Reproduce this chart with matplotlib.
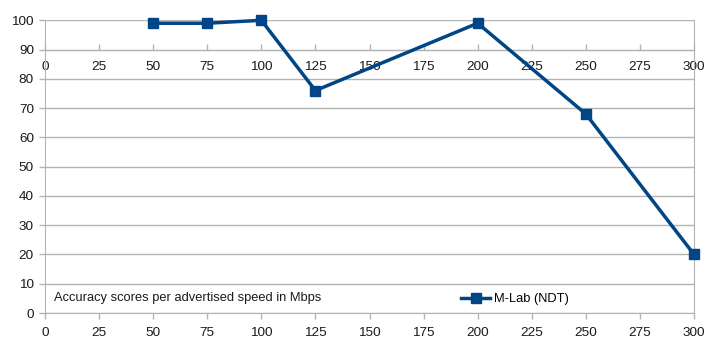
import matplotlib
matplotlib.use("Agg")
import matplotlib.pyplot as plt

# data
speeds = [50, 75, 100, 125, 200, 250, 300]
accuracy = [99, 99, 100, 76, 99, 68, 20]
x_ticks = list(range(0, 301, 25))
y_ticks = list(range(0, 101, 10))

LINE = "#004586"
GRID = "#b3b3b3"
TXT = "#1a1a1a"
FS = 9.3

plt.rcParams["font.family"] = ["Liberation Sans", "DejaVu Sans"]
plt.rcParams["font.size"] = FS

fig = plt.figure(figsize=(7.2, 3.45), dpi=100)
ax = fig.add_axes([45 / 720, 1 - 313 / 345, (694 - 45) / 720, (313 - 20.3) / 345])

ax.plot(speeds, accuracy, color=LINE, lw=2.5, marker="s", ms=7.5,
        mfc=LINE, mec=LINE, label="M-Lab (NDT)", zorder=3, clip_on=False)

ax.set_xlim(0, 300)
ax.set_ylim(0, 100)
ax.set_xticks(x_ticks)
ax.set_yticks(y_ticks)
ax.yaxis.grid(True, color=GRID, lw=1)
ax.set_axisbelow(True)

for side in ["left", "right", "bottom"]:
    ax.spines[side].set_color(GRID)
ax.spines["top"].set_visible(False)
ax.tick_params(axis="both", color=GRID, length=4, width=1, labelcolor=TXT, labelsize=FS + 0.4)
ax.tick_params(axis="x", pad=6)
ax.tick_params(axis="y", pad=4)

# second x axis crossing at y = 90, labels below it, ticks pointing up
sec = ax.secondary_xaxis(0.9)
sec.set_xticks(x_ticks)
sec.xaxis.set_ticks_position("bottom")
sec.xaxis.set_label_position("bottom")
for s in sec.spines.values():
    s.set_color(GRID)
sec.tick_params(axis="x", direction="in", color=GRID, length=4, width=1,
                labelcolor=TXT, labelsize=FS + 0.4, pad=8)

ax.text(0.0139, 0.05, "Accuracy scores per advertised speed in Mbps",
        transform=ax.transAxes, fontsize=FS, color=TXT, va="center", ha="left")

ax.legend(loc="center left", bbox_to_anchor=(455 / 720, 1 - 299 / 345),
          bbox_transform=fig.transFigure, frameon=False, handlelength=2.2,
          handletextpad=0.35, fontsize=FS, borderpad=0)

fig.savefig("out.png", dpi=100)
